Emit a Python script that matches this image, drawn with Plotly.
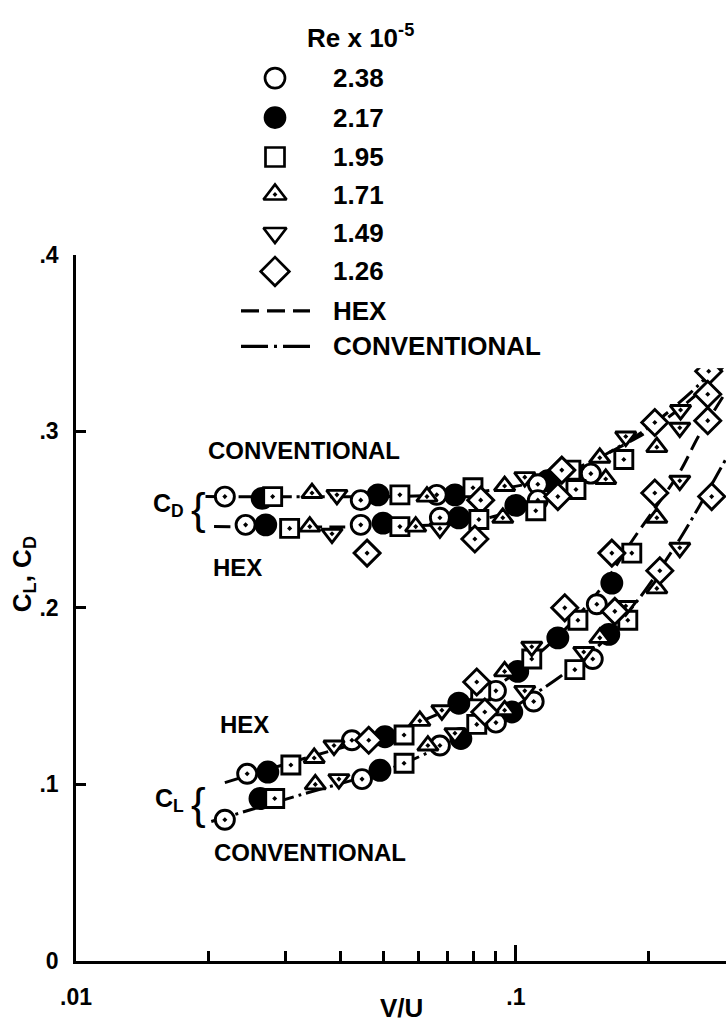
import numpy as np
import plotly.graph_objects as go

# Reynolds number series, Re x 10^-5 (order: open circle, filled circle, square,
# triangle up, triangle down, diamond)
re_labels = ["2.38", "2.17", "1.95", "1.71", "1.49", "1.26"]

# Drag coefficient, conventional configuration
cd_conv_x = [
    [0.0218, 0.0444, 0.0661, 0.1122, 0.1481],
    [0.0265, 0.0486, 0.0727, 0.1182],
    [0.0280, 0.0545, 0.0799, 0.1334, 0.1760],
    [0.0344, 0.0628, 0.0943, 0.1552],
    [0.0392, 0.1048, 0.1778, 0.2369],
    [0.0832, 0.1272, 0.2070, 0.2745],
]
cd_conv_y = [
    [0.263, 0.261, 0.264, 0.270, 0.276],
    [0.262, 0.264, 0.264, 0.272],
    [0.263, 0.264, 0.268, 0.278, 0.284],
    [0.265, 0.263, 0.269, 0.285],
    [0.264, 0.274, 0.297, 0.312],
    [0.261, 0.278, 0.305, 0.334],
]

# Drag coefficient, hex configuration
cd_hex_x = [
    [0.0243, 0.0444, 0.0672, 0.1122],
    [0.0270, 0.0499, 0.0742, 0.1000],
    [0.0306, 0.0545, 0.0824, 0.1110, 0.1370],
    [0.0340, 0.0592, 0.0934, 0.1601, 0.2092],
    [0.0382, 0.0672, 0.2359],
    [0.0459, 0.0807, 0.1246, 0.2731],
]
cd_hex_y = [
    [0.247, 0.247, 0.251, 0.261],
    [0.247, 0.248, 0.251, 0.258],
    [0.245, 0.246, 0.250, 0.255, 0.267],
    [0.246, 0.246, 0.251, 0.273, 0.291],
    [0.242, 0.245, 0.302],
    [0.231, 0.239, 0.263, 0.321],
]

# Lift coefficient, hex configuration
cl_hex_x = [
    [0.0245, 0.0424, 0.0901, 0.1528],
    [0.0273, 0.0504, 0.0742, 0.1010, 0.1246, 0.1653],
    [0.0308, 0.0557, 0.0832, 0.1087, 0.1384, 0.1835],
    [0.0348, 0.0605, 0.0943, 0.2092],
    [0.0386, 0.0679, 0.1087, 0.2359],
    [0.0463, 0.0815, 0.1292, 0.1653, 0.2070, 0.2731],
]
cl_hex_y = [
    [0.106, 0.125, 0.153, 0.202],
    [0.107, 0.127, 0.146, 0.164, 0.183, 0.214],
    [0.111, 0.128, 0.153, 0.171, 0.193, 0.231],
    [0.115, 0.136, 0.164, 0.251],
    [0.122, 0.142, 0.178, 0.272],
    [0.125, 0.158, 0.200, 0.231, 0.265, 0.306],
]

# Lift coefficient, conventional configuration
cl_conv_x = [
    [0.0218, 0.0447, 0.0672, 0.0901, 0.1098, 0.1496],
    [0.0262, 0.0491, 0.0750, 0.0979, 0.1627],
    [0.0283, 0.0557, 0.0815, 0.1362, 0.1797],
    [0.0350, 0.0631, 0.0943, 0.1552, 0.2092],
    [0.0396, 0.0727, 0.1048, 0.1427, 0.1778, 0.2359],
    [0.0850, 0.1679, 0.2125, 0.2788],
]
cl_conv_y = [
    [0.080, 0.103, 0.122, 0.135, 0.147, 0.171],
    [0.092, 0.108, 0.126, 0.141, 0.185],
    [0.092, 0.112, 0.134, 0.165, 0.193],
    [0.100, 0.122, 0.142, 0.183, 0.211],
    [0.103, 0.129, 0.153, 0.175, 0.201, 0.234],
    [0.141, 0.198, 0.221, 0.263],
]

# Faired curves through the data
cd_conv_fit_x = [0.0197, 0.05, 0.07, 0.09, 0.11, 0.13, 0.155, 0.2, 0.25, 0.3]
cd_conv_fit_y = [0.263, 0.263, 0.264, 0.267, 0.271, 0.277, 0.285, 0.302, 0.322, 0.342]
cd_hex_fit_x = [0.0206, 0.05, 0.075, 0.09, 0.105, 0.115, 0.13, 0.155, 0.2, 0.25, 0.3]
cd_hex_fit_y = [0.246, 0.246, 0.248, 0.252, 0.258, 0.262, 0.274, 0.285, 0.300, 0.318, 0.338]
cl_hex_fit_x = [0.0218, 0.0323, 0.0545, 0.092, 0.126, 0.155, 0.185, 0.236, 0.26, 0.3]
cl_hex_fit_y = [0.101, 0.114, 0.131, 0.157, 0.185, 0.210, 0.239, 0.277, 0.297, 0.322]
cl_conv_fit_x = [0.0203, 0.0323, 0.0545, 0.092, 0.126, 0.155, 0.193, 0.236, 0.262, 0.3]
cl_conv_fit_y = [0.079, 0.094, 0.111, 0.139, 0.161, 0.179, 0.207, 0.239, 0.258, 0.284]

# Axis ticks
x_major = [0.01, 0.1]
x_major_text = [".01", ".1"]
x_minor = [0.02, 0.03, 0.04, 0.05, 0.06, 0.07, 0.08, 0.09, 0.2, 0.3]
y_ticks = [0, 0.1, 0.2, 0.3, 0.4]
y_text = ["0", ".1", ".2", ".3", ".4"]

INK = "black"
FONT = "Liberation Sans"
HEX_DASH = "16px,7px"
CONV_DASH = "20px,5px,3px,5px"
KEY_HEX_DASH = "18px,8px"
KEY_CONV_DASH = "27px,6px,3px,6px"

plot_symbols = ["circle-dot", "circle", "square-dot", "triangle-up-dot",
                "triangle-down-dot", "diamond-dot"]
plot_sizes = [19, 20, 18, 18, 18, 20]
plot_fills = ["white", INK, "white", "white", "white", "white"]

key_symbols = ["circle", "circle", "square", "triangle-up-dot", "triangle-down", "diamond"]
key_sizes = [20, 20, 19, 20, 20, 22]

KEY_FONT = dict(family=FONT, size=26, color=INK, weight="bold")
LABEL_FONT = dict(family=FONT, size=24, color=INK, weight="bold")
SUB_FONT = dict(family=FONT, size=25, color=INK, weight="bold")
BRACE_FONT = dict(family=FONT, size=44, color=INK, weight="normal")
TICK_FONT = dict(family=FONT, size=23, color=INK, weight="bold")

fig = go.Figure()


def add_curve(xs, ys, dash):
    fig.add_trace(go.Scatter(
        x=xs, y=ys, mode="lines", hoverinfo="skip",
        line=dict(color=INK, width=3, dash=dash, shape="spline", smoothing=0.8),
    ))


add_curve(cd_conv_fit_x, cd_conv_fit_y, CONV_DASH)
add_curve(cd_hex_fit_x, cd_hex_fit_y, HEX_DASH)
add_curve(cl_hex_fit_x, cl_hex_fit_y, HEX_DASH)
add_curve(cl_conv_fit_x, cl_conv_fit_y, CONV_DASH)

groups = [(cd_conv_x, cd_conv_y), (cd_hex_x, cd_hex_y),
          (cl_hex_x, cl_hex_y), (cl_conv_x, cl_conv_y)]
draw_order = [1, 0, 2, 3, 4, 5]
for gx, gy in groups:
    for i in draw_order:
        fig.add_trace(go.Scatter(
            x=gx[i], y=gy[i], mode="markers", name=re_labels[i],
            marker=dict(symbol=plot_symbols[i], size=plot_sizes[i], color=plot_fills[i],
                        line=dict(color=INK, width=2.9)),
        ))

# Key, drawn on its own overlay axes (x2/y2 in pixel-like units)
key_rows = [66, 106, 146, 184, 223, 262]
key_mark_x = 275
key_text_x = 331
for i, lab in enumerate(re_labels):
    fig.add_trace(go.Scatter(
        x=[key_mark_x], y=[key_rows[i]], xaxis="x2", yaxis="y2", mode="markers",
        marker=dict(symbol=key_symbols[i], size=key_sizes[i], color=plot_fills[i],
                    line=dict(color=INK, width=2.7)),
        hoverinfo="skip",
    ))
    fig.add_annotation(x=key_text_x, y=key_rows[i], xref="x2", yref="y2", text=lab,
                       showarrow=False, xanchor="left", yanchor="middle", font=KEY_FONT)

key_lines = [(302, KEY_HEX_DASH, "HEX"), (338, KEY_CONV_DASH, "CONVENTIONAL")]
for yk, dash, lab in key_lines:
    fig.add_trace(go.Scatter(
        x=[241, 310], y=[yk, yk], xaxis="x2", yaxis="y2", mode="lines",
        line=dict(color=INK, width=3.2, dash=dash), hoverinfo="skip",
    ))
    fig.add_annotation(x=key_text_x, y=yk, xref="x2", yref="y2", text=lab,
                       showarrow=False, xanchor="left", yanchor="middle", font=KEY_FONT)

fig.add_annotation(x=305, y=24, xref="x2", yref="y2", text="Re x 10<sup>-5</sup>",
                   showarrow=False, xanchor="left", yanchor="middle", font=KEY_FONT)

# In-plot labels (x in log10 units for the log axis)
labels = [
    (0.0198, 0.289, "CONVENTIONAL"),
    (0.0203, 0.223, "HEX"),
    (0.0210, 0.134, "HEX"),
    (0.0204, 0.0615, "CONVENTIONAL"),
]
for vx, vy, txt in labels:
    fig.add_annotation(x=np.log10(vx), y=vy, xref="x", yref="y", text=txt,
                       showarrow=False, xanchor="left", yanchor="middle", font=LABEL_FONT)

# Coefficient group markers with braces
for txt, vy in [("C<sub>D</sub>", 0.258), ("C<sub>L</sub>", 0.091)]:
    fig.add_annotation(x=np.log10(0.01778), y=vy, xref="x", yref="y", text=txt,
                       showarrow=False, xanchor="right", yanchor="middle", font=SUB_FONT)
for vy in [0.256, 0.0894]:
    fig.add_annotation(x=np.log10(0.0190), y=vy, xref="x", yref="y", text="{",
                       showarrow=False, xanchor="center", yanchor="middle", font=BRACE_FONT)

# Axis titles
fig.add_annotation(x=0.50, y=-65 / 961, xref="paper", yref="paper", text="V/U",
                   showarrow=False, xanchor="center", yanchor="bottom", font=KEY_FONT)
fig.add_annotation(x=-0.0815, y=0.408, xref="paper", yref="paper",
                   text="C<sub>L</sub>, C<sub>D</sub>", textangle=-90,
                   showarrow=False, xanchor="center", yanchor="middle", font=KEY_FONT)

fig.update_layout(
    width=726, height=1026,
    margin=dict(l=76, r=0, t=0, b=65),
    paper_bgcolor="white", plot_bgcolor="white",
    showlegend=False,
    font=dict(family=FONT, size=26, color=INK, weight="bold"),
    xaxis=dict(
        type="log", range=[-2, np.log10(0.3005)], domain=[0, 1], anchor="y",
        showline=True, linecolor=INK, linewidth=2.5, showgrid=False, zeroline=False,
        ticks="inside", ticklen=16, tickwidth=2.5, tickcolor=INK,
        tickvals=x_major, ticktext=x_major_text, ticklabelstandoff=14,
        tickfont=TICK_FONT,
        minor=dict(tickvals=x_minor, ticks="inside", ticklen=10, tickwidth=2.5,
                   tickcolor=INK, showgrid=False),
    ),
    yaxis=dict(
        range=[0, 0.4], domain=[0, 0.74506], anchor="x",
        showline=True, linecolor=INK, linewidth=2.5, showgrid=False, zeroline=False,
        ticks="inside", ticklen=10, tickwidth=2.5, tickcolor=INK,
        tickvals=y_ticks, ticktext=y_text, ticklabelstandoff=10,
        tickfont=TICK_FONT,
    ),
    xaxis2=dict(domain=[0, 1], range=[76, 726], anchor="y2", visible=False),
    yaxis2=dict(domain=[1 - 360 / 961, 1], range=[360, 0], anchor="x2", visible=False),
)

fig.write_html("out.html")
